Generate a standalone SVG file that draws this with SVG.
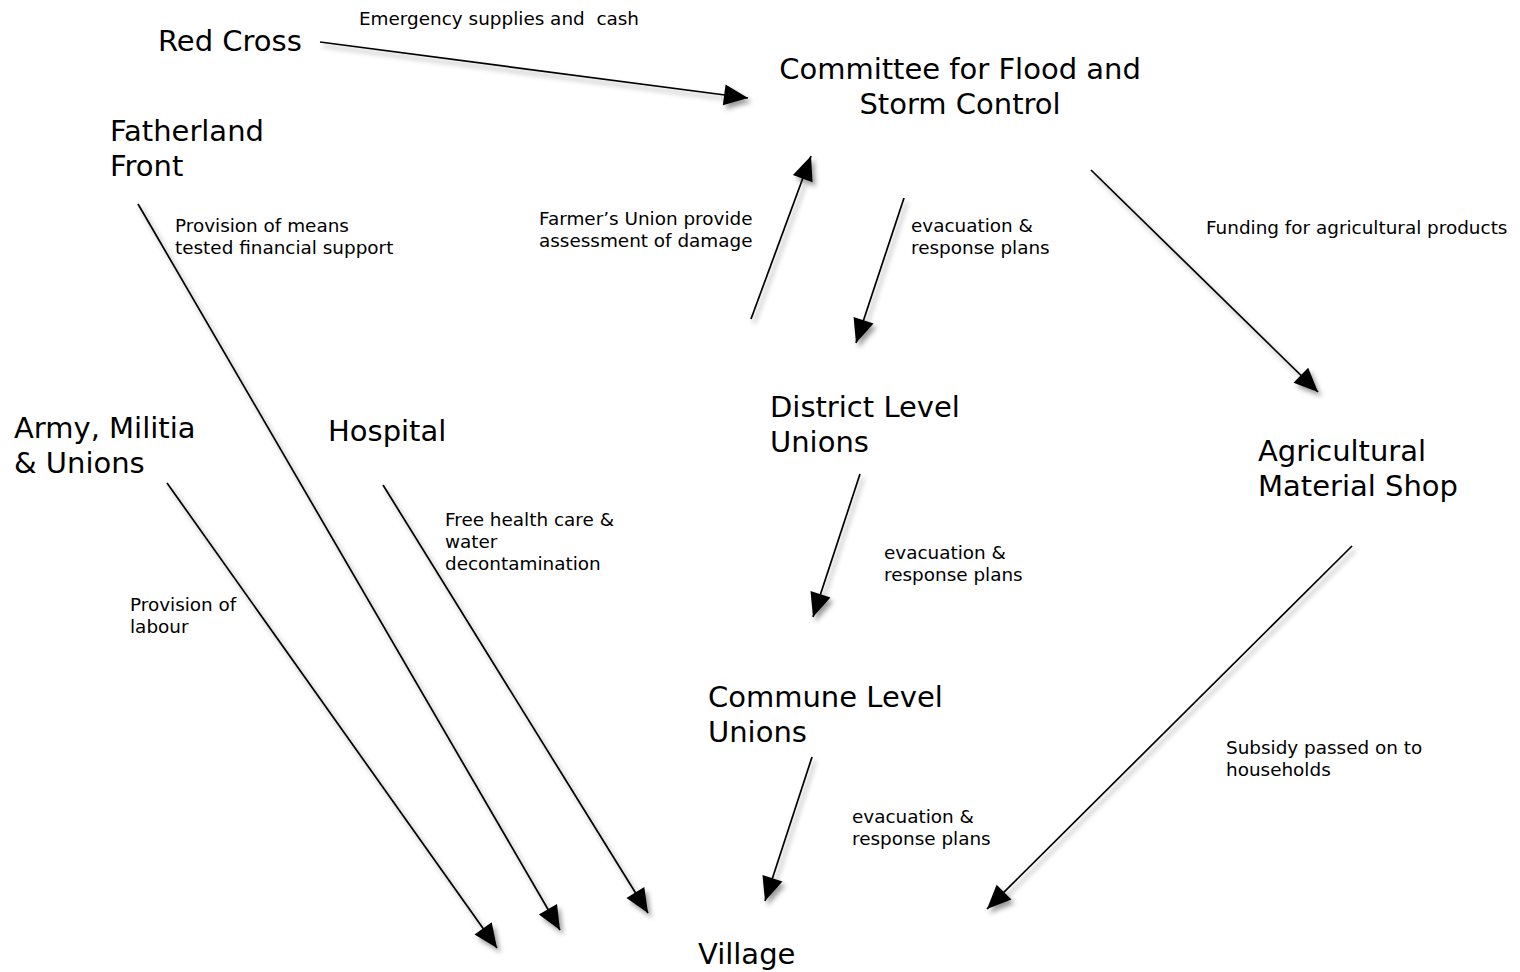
<svg xmlns="http://www.w3.org/2000/svg" width="1520" height="972" viewBox="0 0 1520 972">
<style>
.n{font-family:"DejaVu Sans","Noto Sans",sans-serif;font-size:29px;fill:#000}
.l{font-family:"DejaVu Sans","Noto Sans",sans-serif;font-size:18.4px;fill:#000;white-space:pre}
.c line{stroke:#000;stroke-width:1.7;marker-end:url(#ah)}
</style>
<defs>
<marker id="ah" markerUnits="userSpaceOnUse" markerWidth="26" markerHeight="22" refX="24" refY="10.5" orient="auto" overflow="visible">
<path d="M0,0 L24,10.5 L0,21 z" fill="#000"/>
</marker>
<filter id="sh" x="-10%" y="-10%" width="130%" height="130%">
<feDropShadow dx="3" dy="4" stdDeviation="2.5" flood-color="#000" flood-opacity="0.4"/>
</filter>
</defs>
<rect width="1520" height="972" fill="#fff"/>
<g id="connectors" class="c" filter="url(#sh)">
<line x1="320" y1="42" x2="748" y2="98"/>
<line x1="751" y1="319" x2="811" y2="156"/>
<line x1="904" y1="198" x2="856" y2="343"/>
<line x1="1091" y1="170" x2="1318" y2="392"/>
<line x1="860" y1="474" x2="813" y2="617"/>
<line x1="812" y1="757" x2="765" y2="901"/>
<line x1="1352" y1="546" x2="987" y2="909"/>
<line x1="167" y1="483" x2="497" y2="948"/>
<line x1="138" y1="204" x2="560" y2="930"/>
<line x1="383" y1="485" x2="648" y2="913"/>
</g>
<g id="labels">
<text class="l" x="359" y="25">Emergency supplies and  cash</text>
<text class="l" x="175" y="232">Provision of means</text>
<text class="l" x="175" y="254">tested financial support</text>
<text class="l" x="539" y="225">Farmer’s Union provide</text>
<text class="l" x="539" y="247">assessment of damage</text>
<text class="l" x="911" y="232">evacuation &amp;</text>
<text class="l" x="911" y="254">response plans</text>
<text class="l" x="1206" y="234">Funding for agricultural products</text>
<text class="l" x="445" y="526">Free health care &amp;</text>
<text class="l" x="445" y="548">water</text>
<text class="l" x="445" y="570">decontamination</text>
<text class="l" x="884" y="559">evacuation &amp;</text>
<text class="l" x="884" y="581">response plans</text>
<text class="l" x="130" y="611">Provision of</text>
<text class="l" x="130" y="633">labour</text>
<text class="l" x="1226" y="754">Subsidy passed on to</text>
<text class="l" x="1226" y="776">households</text>
<text class="l" x="852" y="823">evacuation &amp;</text>
<text class="l" x="852" y="845">response plans</text>
</g>
<g id="red-cross"><text class="n" x="158" y="51">Red Cross</text></g>
<g id="committee"><text class="n" x="960" y="79" text-anchor="middle">Committee for Flood and</text><text class="n" x="960" y="114" text-anchor="middle">Storm Control</text></g>
<g id="fatherland-front"><text class="n" x="110" y="141">Fatherland</text><text class="n" x="110" y="176">Front</text></g>
<g id="district"><text class="n" x="770" y="417">District Level</text><text class="n" x="770" y="452">Unions</text></g>
<g id="army"><text class="n" x="14" y="438">Army, Militia</text><text class="n" x="14" y="473">&amp; Unions</text></g>
<g id="hospital"><text class="n" x="328" y="441">Hospital</text></g>
<g id="agri-shop"><text class="n" x="1258" y="461">Agricultural</text><text class="n" x="1258" y="496">Material Shop</text></g>
<g id="commune"><text class="n" x="708" y="707">Commune Level</text><text class="n" x="708" y="742">Unions</text></g>
<g id="village"><text class="n" x="698" y="964">Village</text></g>
</svg>
